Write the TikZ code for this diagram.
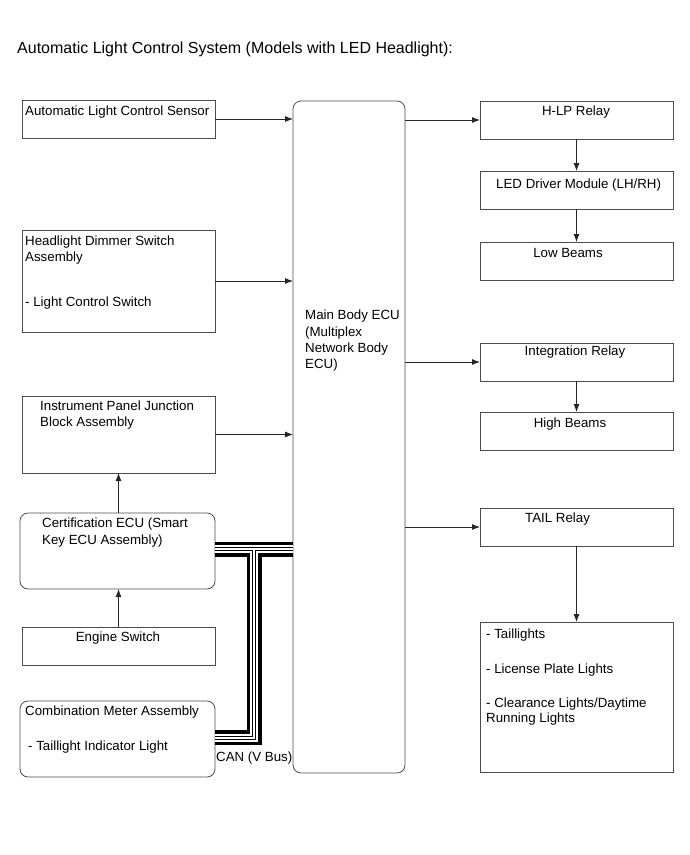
\documentclass[tikz,border=0pt]{standalone}
\usepackage{fontspec}
\setmainfont{Liberation Sans}
\usetikzlibrary{arrows.meta}
\begin{document}
\begin{tikzpicture}[x=1pt,y=-1pt,
 box/.style={draw=black!70, line width=0.8pt, anchor=north west, inner sep=0pt, outer sep=0pt},
 rbox/.style={box, rounded corners=8pt},
 txt/.style={font=\fontsize{13.3}{16}\selectfont, inner sep=0pt, anchor=base west},
 txtc/.style={txt, anchor=base},
 arr/.style={draw=black!85, line width=0.8pt, -{Latex[length=8pt,width=6pt]}}]
\useasboundingbox (0,0) rectangle (690,855);

\node[txt, font=\fontsize{16}{19}\selectfont] (title) at (17,53.7) {Automatic Light Control System (Models with LED Headlight):};

% left column
\node[box, minimum width=193pt, minimum height=38pt] (sensor) at (22,100) {};
\node[txt] (sensorT) at (25,115.8) {Automatic Light Control Sensor};

\node[box, minimum width=193pt, minimum height=102pt] (dimmer) at (22,230) {};
\node[txt] (dimT1) at (25,245.8) {Headlight Dimmer Switch};
\node[txt] (dimT2) at (25,261.8) {Assembly};
\node[txt] (dimT3) at (25,306.8) {- Light Control Switch};

\node[box, minimum width=193pt, minimum height=77pt] (ipjb) at (22,396) {};
\node[txt] (ipT1) at (40,410.8) {Instrument Panel Junction};
\node[txt] (ipT2) at (40,426.8) {Block Assembly};

\node[rbox, minimum width=195pt, minimum height=76pt] (cert) at (20,513) {};
\node[txt] (certT1) at (42,527.8) {Certification ECU (Smart};
\node[txt] (certT2) at (42,544.8) {Key ECU Assembly)};

\node[box, minimum width=193pt, minimum height=38pt] (eng) at (22,627) {};
\node[txtc] (engT) at (118,641.8) {Engine Switch};

\node[rbox, minimum width=195pt, minimum height=76pt] (comb) at (20,701) {};
\node[txt] (combT1) at (25,715.8) {Combination Meter Assembly};
\node[txt] (combT2) at (28,750.8) {- Taillight Indicator Light};

% main ECU
\node[rbox, minimum width=112pt, minimum height=672pt] (ecu) at (293,101) {};
\node[txt] (ecuT1) at (305,319.8) {Main Body ECU};
\node[txt] (ecuT2) at (305,336.8) {(Multiplex};
\node[txt] (ecuT3) at (305,352.8) {Network Body};
\node[txt] (ecuT4) at (305,368.8) {ECU)};

% right column
\node[box, minimum width=193pt, minimum height=38pt] (hlp) at (480,101) {};
\node[txtc] (hlpT) at (576,115.8) {H-LP Relay};

\node[box, minimum width=193pt, minimum height=38pt] (led) at (480,171) {};
\node[txt] (ledT) at (496,188.8) {LED Driver Module (LH/RH)};

\node[box, minimum width=193pt, minimum height=38pt] (low) at (480,242) {};
\node[txtc] (lowT) at (568,257.8) {Low Beams};

\node[box, minimum width=193pt, minimum height=38pt] (integ) at (480,343) {};
\node[txtc] (integT) at (575,355.8) {Integration Relay};

\node[box, minimum width=193pt, minimum height=38pt] (high) at (480,412) {};
\node[txtc] (highT) at (570,427.8) {High Beams};

\node[box, minimum width=193pt, minimum height=38pt] (tail) at (480,508) {};
\node[txt] (tailT) at (525,522.8) {TAIL Relay};

\node[box, minimum width=193pt, minimum height=150pt] (lights) at (480,622) {};
\node[txt] (lT1) at (486,638.8) {- Taillights};
\node[txt] (lT2) at (486,673.8) {- License Plate Lights};
\node[txt] (lT3) at (486,707.8) {- Clearance Lights/Daytime};
\node[txt] (lT4) at (486,722.8) {Running Lights};

% arrows
\draw[arr] (sensor.east) -- (sensor.east -| ecu.west);
\draw[arr] (dimmer.east) -- (dimmer.east -| ecu.west);
\draw[arr] (ipjb.east) -- (ipjb.east -| ecu.west);
\draw[arr] (eng.north) -- (eng.north |- cert.south);
\draw[arr] (ipjb.south |- cert.north) -- (ipjb.south);
\draw[arr] (hlp.west -| ecu.east) -- (hlp.west);
\draw[arr] (integ.west -| ecu.east) -- (integ.west);
\draw[arr] (tail.west -| ecu.east) -- (tail.west);
\draw[arr] (hlp.south) -- (led.north);
\draw[arr] (led.south) -- (low.north);
\draw[arr] (integ.south) -- (high.north);
\draw[arr] (tail.south) -- (lights.north);

% CAN bus
\coordinate (j) at (254,549);
\coordinate (jb) at (254,737.5);
\foreach \w/\c in {15/black, 8/white, 4/black, 2/white}{
  \draw[line width=\w pt, \c] (cert.east |- j) -- (ecu.west |- j) (j) -- (jb) -- (comb.east |- jb);
}
\node[txt] (canT) at (216,761.8) {CAN (V Bus)};
\end{tikzpicture}
\end{document}
